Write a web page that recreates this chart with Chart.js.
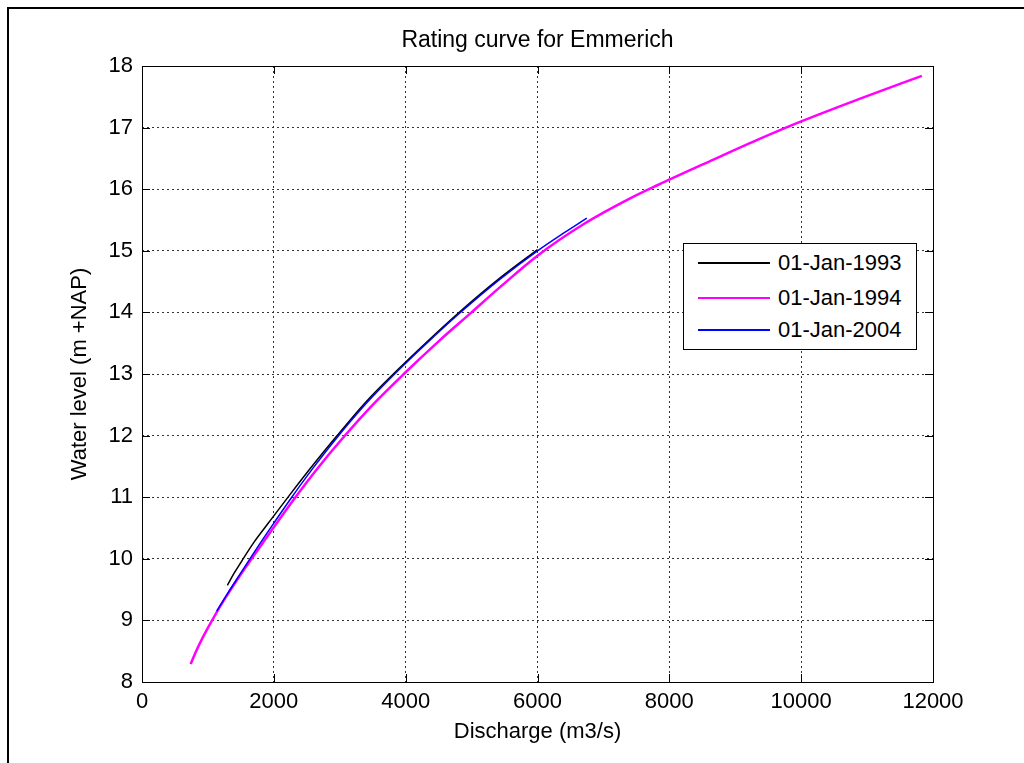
<!DOCTYPE html>
<html>
<head>
<meta charset="utf-8">
<title>Rating curve for Emmerich</title>
<script src="https://cdn.jsdelivr.net/npm/chart.js@4"></script>
<style>
  html, body { margin: 0; padding: 0; background: #fff; overflow: hidden; }
  #wrap { position: relative; width: 1024px; height: 763px; overflow: hidden; }
  #frame { position: absolute; left: 7px; top: 7px; width: 1100px; height: 900px; border: 2px solid #000; }
  #myCanvas { position: absolute; left: 0; top: 0; }
  #legendBox {
    position: absolute; left: 683px; top: 243px; width: 234px; height: 107px;
    box-sizing: border-box; border: 1px solid #000; background: #fff;
    font-family: Arial, "Liberation Sans", sans-serif; font-size: 22px; color: #000;
  }
  .legendLine { position: absolute; left: 14px; width: 72px; }
  .legendText { position: absolute; left: 94px; height: 26px; line-height: 26px; white-space: nowrap; }
</style>
</head>
<body>
<div id="wrap">
  <div id="frame"></div>
  <canvas id="myCanvas" width="1024" height="763"></canvas>
  <div id="legendBox"></div>
</div>
<script>
// series labels (legend)
const seriesNames = ["01-Jan-1993", "01-Jan-1994", "01-Jan-2004"];

// 01-Jan-1993 (black)
const q1993 = [1295, 1400, 1487, 1700, 1917, 2250, 2600, 2929, 3400, 3890, 4300, 4800, 5432, 6000];
const h1993 = [9.57, 9.77, 9.92, 10.27, 10.58, 11.05, 11.53, 11.96, 12.55, 13.08, 13.5, 13.99, 14.56, 15.02];

// 01-Jan-1994 (magenta)
const q1994 = [739, 804, 930, 1057, 1250, 1500, 1840, 2322, 2650, 3030, 3500, 3991, 4500, 4977, 5432, 6000, 6697, 7405, 7810, 8669, 9378, 10000, 10895, 11831];
const h1994 = [8.29, 8.46, 8.74, 8.99, 9.34, 9.75, 10.27, 10.99, 11.45, 11.94, 12.5, 13.02, 13.53, 13.98, 14.41, 14.92, 15.43, 15.85, 16.06, 16.48, 16.82, 17.1, 17.47, 17.84];

// 01-Jan-2004 (blue)
const q2004 = [1133, 1300, 1487, 1791, 2000, 2272, 2600, 2929, 3400, 3890, 4300, 4800, 5432, 6000, 6400, 6748];
const h2004 = [9.15, 9.44, 9.75, 10.25, 10.58, 11.0, 11.48, 11.93, 12.52, 13.06, 13.48, 13.97, 14.54, 15.0, 15.29, 15.53];

// axis ticks
const xTicks = [0, 2000, 4000, 6000, 8000, 10000, 12000];
const yTicks = [8, 9, 10, 11, 12, 13, 14, 15, 16, 17, 18];

const fontFamily = 'Arial, "Liberation Sans", sans-serif';

function toPoints(xs, ys) {
  return xs.map((x, i) => ({ x: x, y: ys[i] }));
}

const seriesStyle = [
  { color: "#000000", width: 1.5, order: 2 },
  { color: "#ff00ff", width: 2.5, order: 1 },
  { color: "#0000ff", width: 1.5, order: 0 },
];
const seriesData = [toPoints(q1993, h1993), toPoints(q1994, h1994), toPoints(q2004, h2004)];

const datasets = seriesNames.map((name, i) => ({
  label: name,
  data: seriesData[i],
  borderColor: seriesStyle[i].color,
  backgroundColor: seriesStyle[i].color,
  borderWidth: seriesStyle[i].width,
  order: seriesStyle[i].order,
  pointRadius: 0,
  fill: false,
  cubicInterpolationMode: "monotone",
}));

// solid box round the plot plus the small inward tick marks
const frameAndTicks = {
  id: "frameAndTicks",
  afterDatasetsDraw(chart) {
    const ctx = chart.ctx;
    const a = chart.chartArea;
    const sx = chart.scales.x;
    const sy = chart.scales.y;
    ctx.save();
    ctx.strokeStyle = "#000";
    ctx.lineWidth = 1;
    ctx.setLineDash([]);
    ctx.beginPath();
    xTicks.forEach((v) => {
      const px = Math.round(sx.getPixelForValue(v)) + 0.5;
      ctx.moveTo(px, a.bottom);
      ctx.lineTo(px, a.bottom - 8);
      ctx.moveTo(px, a.top);
      ctx.lineTo(px, a.top + 8);
    });
    yTicks.forEach((v) => {
      const py = Math.round(sy.getPixelForValue(v)) + 0.5;
      ctx.moveTo(a.left, py);
      ctx.lineTo(a.left + 8, py);
      ctx.moveTo(a.right, py);
      ctx.lineTo(a.right - 8, py);
    });
    ctx.stroke();
    ctx.strokeRect(Math.round(a.left) + 0.5, Math.round(a.top) + 0.5,
      Math.round(a.right - a.left), Math.round(a.bottom - a.top));
    ctx.restore();
  },
};

const canvas = document.querySelector("#myCanvas");
const myChart = new Chart(canvas, {
  type: "line",
  data: { datasets: datasets },
  options: {
    responsive: false,
    animation: false,
    layout: { padding: { left: 0, right: 91, top: 0, bottom: 0 } },
    plugins: {
      legend: { display: false },
      tooltip: { enabled: false },
      title: {
        display: true,
        fullSize: false,
        text: "Rating curve for Emmerich",
        color: "#000",
        font: { family: fontFamily, size: 23, weight: "normal" },
        padding: { top: 27, bottom: 11.4 },
      },
    },
    scales: {
      x: {
        type: "linear",
        min: 0,
        max: 12000,
        afterBuildTicks: (scale) => { scale.ticks = xTicks.map((v) => ({ value: v })); },
        afterFit: (scale) => { scale.height = 81; },
        ticks: {
          color: "#000", padding: 7, maxRotation: 0,
          font: { family: fontFamily, size: 22 },
          callback: (v) => String(v),
        },
        grid: { color: "#333", lineWidth: 1, drawTicks: false },
        border: { display: false, dash: [2, 3] },
        title: {
          display: true,
          text: "Discharge (m3/s)",
          color: "#000",
          font: { family: fontFamily, size: 22 },
          padding: { top: 0, bottom: 17.8 },
        },
      },
      y: {
        type: "linear",
        min: 8,
        max: 18,
        afterBuildTicks: (scale) => { scale.ticks = yTicks.map((v) => ({ value: v })); },
        afterFit: (scale) => { scale.width = 142; },
        ticks: {
          color: "#000", padding: 9,
          font: { family: fontFamily, size: 22 },
          callback: (v) => String(v),
        },
        grid: { color: "#333", lineWidth: 1, drawTicks: false },
        border: { display: false, dash: [2, 3] },
        title: {
          display: true,
          text: "Water level (m +NAP)",
          color: "#000",
          font: { family: fontFamily, size: 22 },
          padding: { top: 67, bottom: 0 },
        },
      },
    },
  },
  plugins: [frameAndTicks],
});

// legend box inside the plot, built from the dataset settings
const legendBox = document.querySelector("#legendBox");
const rowCenters = [19, 54, 86];
seriesNames.forEach((name, i) => {
  const line = document.createElement("div");
  line.className = "legendLine";
  line.style.top = (rowCenters[i] - seriesStyle[i].width / 2) + "px";
  line.style.height = seriesStyle[i].width + "px";
  line.style.background = seriesStyle[i].color;
  legendBox.append(line);

  const text = document.createElement("div");
  text.className = "legendText";
  text.style.top = (rowCenters[i] - 13) + "px";
  text.innerText = name;
  legendBox.append(text);
});
</script>
</body>
</html>
